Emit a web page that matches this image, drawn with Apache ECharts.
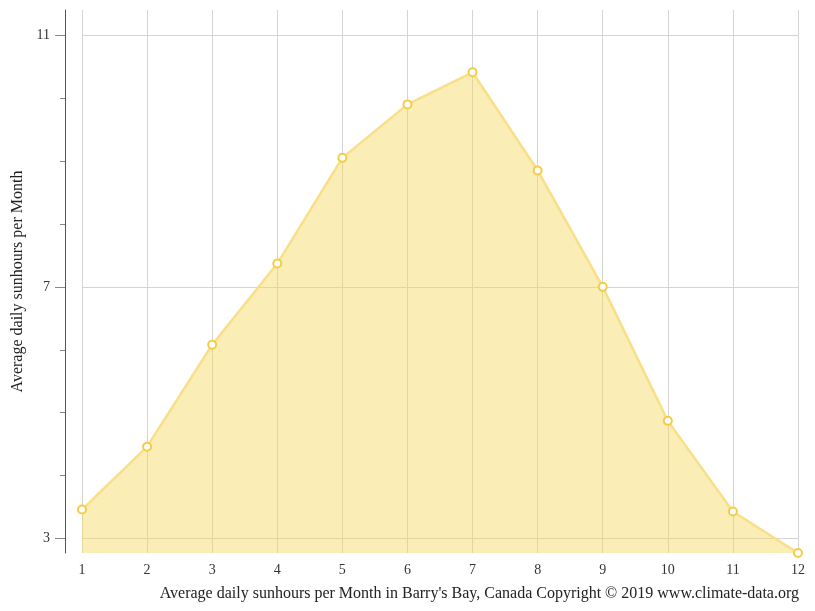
<!DOCTYPE html>
<html>
<head>
<meta charset="utf-8">
<script src="https://cdn.jsdelivr.net/npm/echarts@6/dist/echarts.min.js"></script>
<style>
  html, body { margin: 0; padding: 0; background: #fff; }
  #main { width: 815px; height: 611px; }
</style>
</head>
<body>
<div id="main"></div>
<script>
// months and sun hours
var months = ['1','2','3','4','5','6','7','8','9','10','11','12'];
var sunHours = [3.46, 4.46, 6.08, 7.37, 9.05, 9.9, 10.41, 8.85, 7.0, 4.87, 3.43, 2.77];
var majorTicks = [3, 7, 11];
var minorTicks = [4, 5, 6, 8, 9, 10];

(function(){
    var myChart = echarts.init(document.getElementById('main'));
    var font = '"Liberation Serif", "Times New Roman", serif';

    var option = {
        animation: false,
        title: {
            text: "Average daily sunhours per Month in Barry's Bay, Canada Copyright \u00a9 2019 www.climate-data.org",
            right: 11,
            top: 581,
            textStyle: {
                fontFamily: font,
                fontSize: 16,
                fontWeight: 'normal',
                color: '#222'
            }
        },
        grid: {
            left: 82,
            right: 17,
            top: 10,
            bottom: 58,
            containLabel: false,
            outerBoundsMode: 'none'
        },
        xAxis: {
            type: 'category',
            boundaryGap: false,
            data: months,
            axisLine: { show: false },
            axisTick: { show: false },
            axisLabel: {
                margin: 10,
                fontFamily: font,
                fontSize: 14,
                color: '#333'
            },
            splitLine: {
                show: true,
                lineStyle: { color: '#d4d4d4', width: 1 }
            }
        },
        yAxis: [
            {
                type: 'value',
                position: 'left',
                offset: 17,
                min: 2.77,
                max: 11.4,
                name: 'Average daily sunhours per Month',
                nameLocation: 'middle',
                nameGap: 38,
                nameTextStyle: {
                    fontFamily: font,
                    fontSize: 16,
                    color: '#222'
                },
                axisLine: { show: true, lineStyle: { color: '#555', width: 1 } },
                axisTick: {
                    show: true,
                    length: 10,
                    customValues: majorTicks,
                    lineStyle: { color: '#888' }
                },
                axisLabel: {
                    customValues: majorTicks,
                    margin: 15,
                    fontFamily: font,
                    fontSize: 14,
                    color: '#333'
                },
                splitLine: {
                    show: true,
                    lineStyle: { color: '#d4d4d4', width: 1 }
                }
            },
            {
                type: 'value',
                position: 'left',
                offset: 17,
                min: 2.77,
                max: 11.4,
                axisLine: { show: false },
                axisTick: {
                    show: true,
                    length: 5,
                    customValues: minorTicks,
                    lineStyle: { color: '#888' }
                },
                axisLabel: { show: false },
                splitLine: { show: false }
            }
        ],
        series: [
            {
                name: 'Sun hours',
                type: 'line',
                data: sunHours,
                symbol: 'circle',
                symbolSize: 8,
                showAllSymbol: true,
                itemStyle: {
                    color: '#fff',
                    borderColor: '#f4cd45',
                    borderWidth: 2
                },
                lineStyle: {
                    color: '#f8df88',
                    width: 2.5
                },
                areaStyle: {
                    color: '#f5d85e',
                    opacity: 0.46
                }
            }
        ]
    };
    myChart.setOption(option);
})();
</script>
</body>
</html>
